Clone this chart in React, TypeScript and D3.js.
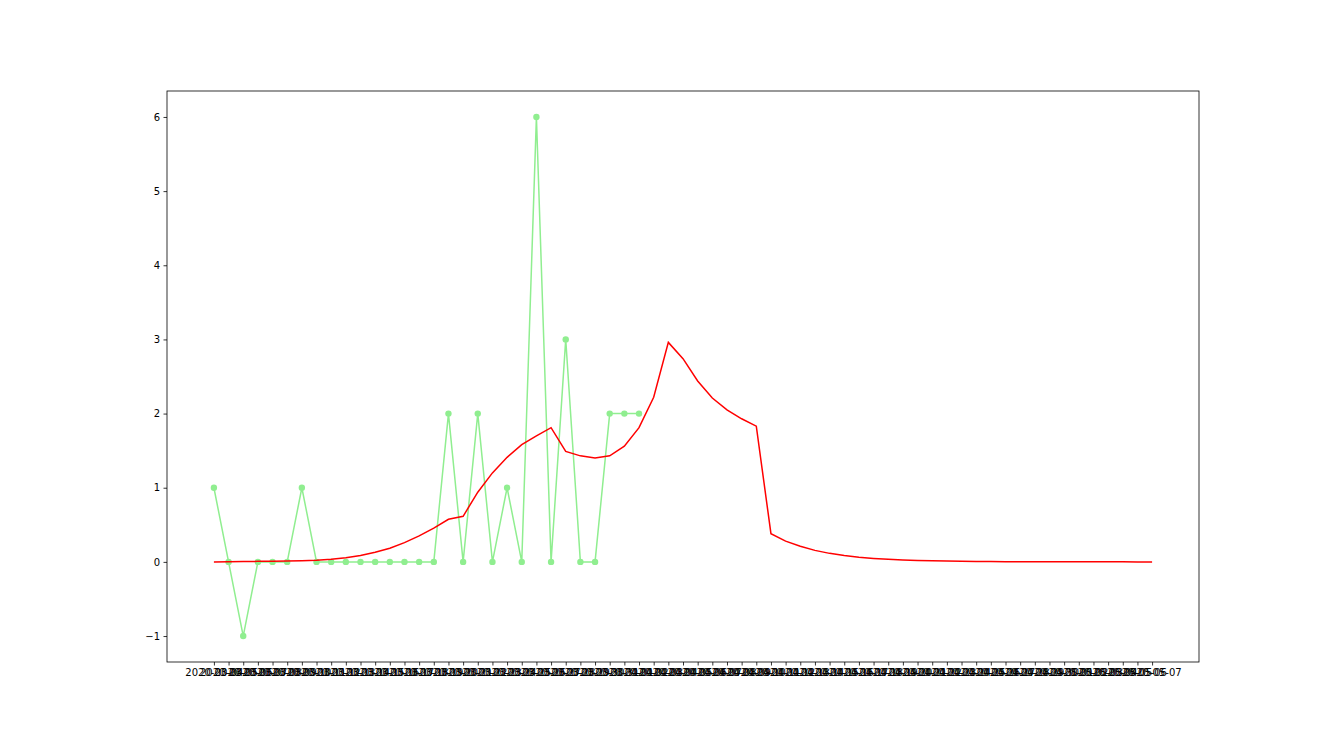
import React, { useEffect, useRef } from 'react';
import * as d3 from 'd3';

// tick labels, one per day
const dates = [
  '2020-03-04', '2020-03-05', '2020-03-06', '2020-03-07', '2020-03-08', '2020-03-09', '2020-03-10',
  '2020-03-11', '2020-03-12', '2020-03-13', '2020-03-14', '2020-03-15', '2020-03-16', '2020-03-17',
  '2020-03-18', '2020-03-19', '2020-03-20', '2020-03-21', '2020-03-22', '2020-03-23', '2020-03-24',
  '2020-03-25', '2020-03-26', '2020-03-27', '2020-03-28', '2020-03-29', '2020-03-30', '2020-03-31',
  '2020-04-01', '2020-04-02', '2020-04-03', '2020-04-04', '2020-04-05', '2020-04-06', '2020-04-07',
  '2020-04-08', '2020-04-09', '2020-04-10', '2020-04-11', '2020-04-12', '2020-04-13', '2020-04-14',
  '2020-04-15', '2020-04-16', '2020-04-17', '2020-04-18', '2020-04-19', '2020-04-20', '2020-04-21',
  '2020-04-22', '2020-04-23', '2020-04-24', '2020-04-25', '2020-04-26', '2020-04-27', '2020-04-28',
  '2020-04-29', '2020-04-30', '2020-05-01', '2020-05-02', '2020-05-03', '2020-05-04', '2020-05-05',
  '2020-05-06', '2020-05-07',
];

// observed values (first 30 days)
const actual = [
  1, 0, -1, 0, 0, 0, 1, 0, 0, 0, 0, 0, 0, 0, 0, 0, 2, 0, 2, 0,
  1, 0, 6, 0, 3, 0, 0, 2, 2, 2,
];

// fitted curve (all days)
const predicted = [
  0.0, 0.003, 0.005, 0.007, 0.009, 0.011, 0.015, 0.022, 0.035, 0.055,
  0.085, 0.13, 0.185, 0.26, 0.35, 0.455, 0.575, 0.615, 0.94, 1.2,
  1.41, 1.58, 1.7, 1.81, 1.49, 1.43, 1.4, 1.43, 1.56, 1.81,
  2.22, 2.96, 2.74, 2.44, 2.21, 2.05, 1.93, 1.83, 0.38, 0.28,
  0.21, 0.155, 0.115, 0.085, 0.063, 0.047, 0.035, 0.026, 0.019, 0.014,
  0.011, 0.008, 0.006, 0.0045, 0.0034, 0.0025, 0.0019, 0.0014, 0.001, 0.0008,
  0.0006, 0.0004, 0.0003, 0.0002, 0.0002,
];

const yTicks = [-1, 0, 1, 2, 3, 4, 5, 6];

const W = 1332;
const H = 756;
const plot = { left: 167, right: 1199, top: 91, bottom: 662 };

function App() {
  const ref = useRef<SVGGElement>(null);

  useEffect(() => {
    document.body.style.margin = '0';
    const g = d3.select(ref.current);
    g.selectAll('*').remove();

    const n = dates.length;
    const xPad = (n - 1) * 0.05;
    const x = d3.scaleLinear()
      .domain([-xPad, n - 1 + xPad])
      .range([plot.left, plot.right]);

    const yMin = d3.min(actual)!;
    const yMax = d3.max(actual)!;
    const yPad = (yMax - yMin) * 0.05;
    const y = d3.scaleLinear()
      .domain([yMin - yPad, yMax + yPad])
      .range([plot.bottom, plot.top]);

    const font = 'DejaVu Sans, sans-serif';

    // x axis
    const xAxis = g.append('g')
      .attr('transform', 'translate(0,' + plot.bottom + ')')
      .call(d3.axisBottom(x)
        .tickValues(d3.range(n))
        .tickFormat((i) => dates[+i])
        .tickSizeInner(3.5)
        .tickSizeOuter(0)
        .tickPadding(3.5));
    xAxis.select('.domain').remove();
    xAxis.selectAll('line').attr('stroke', '#000').attr('stroke-width', 0.8);
    xAxis.selectAll('text')
      .attr('font-family', font).attr('font-size', 10).attr('fill', '#000');

    // y axis
    const yAxis = g.append('g')
      .attr('transform', 'translate(' + plot.left + ',0)')
      .call(d3.axisLeft(y)
        .tickValues(yTicks)
        .tickFormat(d3.format('d'))
        .tickSizeInner(3.5)
        .tickSizeOuter(0)
        .tickPadding(3.5));
    yAxis.select('.domain').remove();
    yAxis.selectAll('line').attr('stroke', '#000').attr('stroke-width', 0.8);
    yAxis.selectAll('text')
      .attr('font-family', font).attr('font-size', 10).attr('fill', '#000');

    // observed line with markers
    const line = d3.line<number>()
      .x((d, i) => x(i))
      .y((d) => y(d));

    g.append('path')
      .datum(actual)
      .attr('fill', 'none')
      .attr('stroke', 'lightgreen')
      .attr('stroke-width', 1.5)
      .attr('d', line);

    g.selectAll('circle.pt')
      .data(actual)
      .enter()
      .append('circle')
      .attr('class', 'pt')
      .attr('cx', (d, i) => x(i))
      .attr('cy', (d) => y(d))
      .attr('r', 3.2)
      .attr('fill', 'lightgreen');

    // fitted curve
    g.append('path')
      .datum(predicted)
      .attr('fill', 'none')
      .attr('stroke', 'red')
      .attr('stroke-width', 1.5)
      .attr('d', line);

    // frame
    g.append('rect')
      .attr('x', plot.left)
      .attr('y', plot.top)
      .attr('width', plot.right - plot.left)
      .attr('height', plot.bottom - plot.top)
      .attr('fill', 'none')
      .attr('stroke', '#000')
      .attr('stroke-width', 0.8);
  }, []);

  return (
    <svg width={W} height={H} style={{ display: 'block', background: '#fff' }}>
      <g ref={ref} />
    </svg>
  );
}

export default App;
